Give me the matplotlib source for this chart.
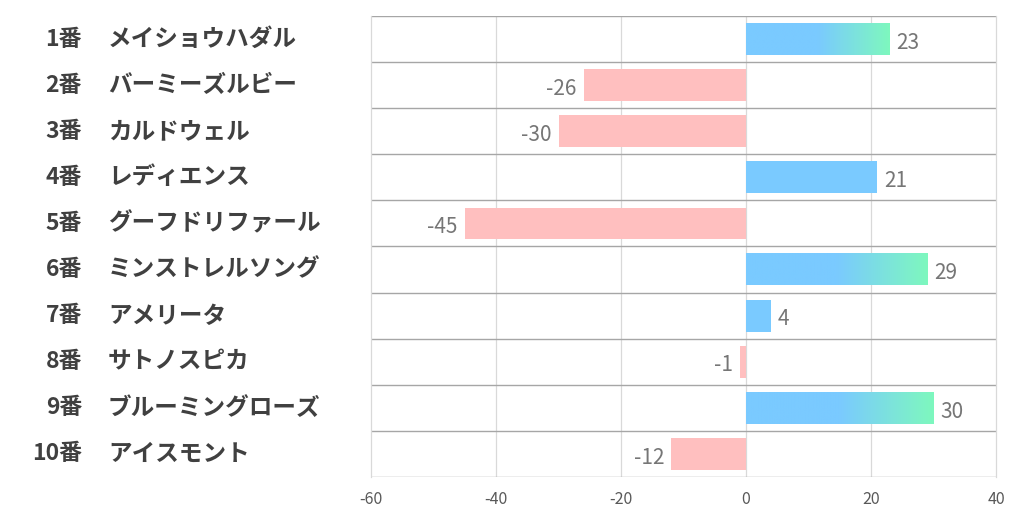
import matplotlib.pyplot as plt
import numpy as np
from matplotlib.colors import LinearSegmentedColormap

plt.rcParams['font.family'] = ['Noto Sans CJK JP', 'DejaVu Sans']
plt.rcParams['axes.unicode_minus'] = False

numeros = ["1番", "2番", "3番", "4番", "5番", "6番", "7番", "8番", "9番", "10番"]
nombres = ["メイショウハダル", "バーミーズルビー", "カルドウェル", "レディエンス",
           "グーフドリファール", "ミンストレルソング", "アメリータ", "サトノスピカ",
           "ブルーミングローズ", "アイスモント"]
valores = [23, -26, -30, 21, -45, 29, 4, -1, 30, -12]

AZUL = "#7acaff"
VERDE = "#7ef8be"
ROSA = "#ffbfbf"
ALTO = 0.69

fig = plt.figure(figsize=(10.22, 5.22), dpi=100)
ax = fig.add_axes([371 / 1022, 1 - 477 / 522, (996 - 371) / 1022, (477 - 16) / 522])

# los tres mayores llevan degradado
top3 = sorted(range(len(valores)), key=lambda i: valores[i], reverse=True)[:3]
cmap = LinearSegmentedColormap.from_list("az_ve", [AZUL, AZUL, VERDE])

for i, v in enumerate(valores):
    if v >= 0:
        if i in top3:
            grad = np.linspace(0, 1, 256).reshape(1, -1)
            ax.imshow(grad, cmap=cmap, aspect="auto", zorder=2,
                      extent=(0, v, i + ALTO / 2, i - ALTO / 2), interpolation="bilinear")
        else:
            ax.barh(i, v, height=ALTO, color=AZUL, zorder=2)
        ax.text(v + 1.1, i + 0.08, str(v), va="center", ha="left",
                fontsize=15, color="#767676")
    else:
        ax.barh(i, v, height=ALTO, color=ROSA, zorder=2)
        ax.text(v - 1.1, i + 0.08, str(v), va="center", ha="right",
                fontsize=15, color="#767676")

ax.set_aspect("auto")
ax.set_xlim(-60, 40)
ax.set_ylim(len(valores) - 0.5, -0.5)

for x in range(-40, 40, 20):
    ax.axvline(x, color="#d9d9d9", lw=0.9, zorder=1)
for k in range(len(valores) + 1):
    ax.axhline(k - 0.5, color="#a6a6a6", lw=1.0, zorder=1)

for lado in ["top", "bottom"]:
    ax.spines[lado].set_visible(False)
for lado in ["left", "right"]:
    ax.spines[lado].set_color("#d9d9d9")
    ax.spines[lado].set_linewidth(0.9)

ax.set_yticks([])
ax.set_xticks(range(-60, 41, 20))
ax.tick_params(axis="x", length=0, pad=10, labelsize=11.5, labelcolor="#595959")

for i, (num, nom) in enumerate(zip(numeros, nombres)):
    y = 1 - (16 + 46.1 * (i + 0.5)) / 522
    fig.text(82 / 1022, y, num, ha="right", va="center", fontsize=16.5,
             fontweight="bold", color="#404040")
    fig.text(108 / 1022, y, nom, ha="left", va="center", fontsize=17,
             fontweight="bold", color="#404040")

fig.savefig("out.png", dpi=100)
